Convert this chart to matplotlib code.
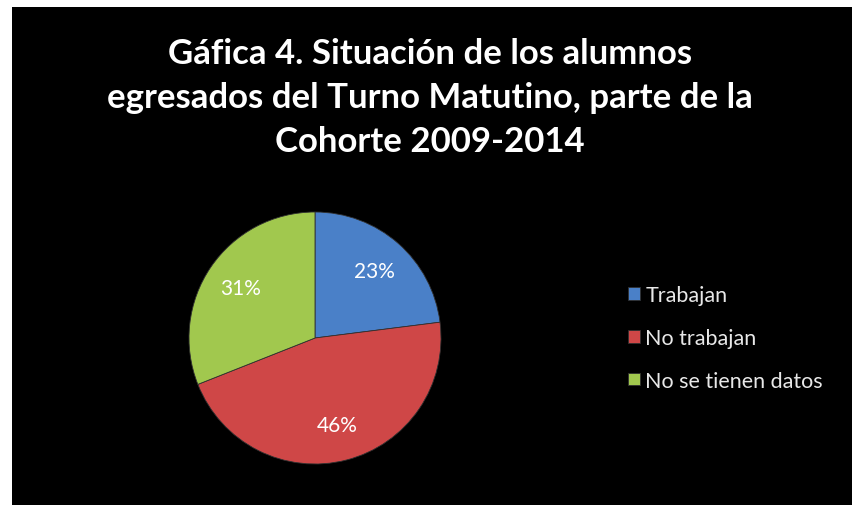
import matplotlib
matplotlib.use("Agg")
import matplotlib.pyplot as plt
from matplotlib.patches import Rectangle

categories = ["Trabajan", "No trabajan", "No se tienen datos"]
values = [23, 46, 31]
colors = ["#4a80c8", "#cf4747", "#a1c84e"]
title = "Gáfica 4. Situación de los alumnos\negresados del Turno Matutino, parte de la\nCohorte 2009-2014"

plt.rcParams['font.family'] = ['Lato', 'DejaVu Sans']

W, H = 853, 506
fig = plt.figure(figsize=(W / 100, H / 100), dpi=100, facecolor="white")
# black chart area inside a white margin (left and top)
fig.patches.append(Rectangle((12 / W, -0.1), 1.0, 1.1 - 8 / H,
                             transform=fig.transFigure, facecolor="black",
                             edgecolor="none", zorder=0))

cx, cy, r = 315, 339, 126
ax = fig.add_axes([(cx - r) / W, (H - cy - r) / H, 2 * r / W, 2 * r / H])
ax.set_zorder(2)
ax.set_facecolor("none")
wedges, texts, autotexts = ax.pie(values, colors=colors, startangle=90,
                                  counterclock=False, autopct="%1.0f%%",
                                  pctdistance=0.71, radius=1,
                                  wedgeprops=dict(edgecolor="#303030", linewidth=0.6),
                                  textprops=dict(color="white", fontsize=15))
ax.set_xlim(-1.0, 1.0)
ax.set_ylim(-1.0, 1.0)
ax.set_aspect("equal")
ax.axis("off")

fig.text(430 / W, 1 - 98 / H, title, ha="center", va="center",
         multialignment="center", color="white", fontsize=25,
         fontweight="bold", linespacing=1.45, zorder=3)

leg = fig.legend(wedges, categories, loc="center left",
                 bbox_to_anchor=(628 / W, 1 - 339 / H), frameon=False,
                 fontsize=15.5, labelcolor="#e8e8e8", handlelength=0.55,
                 handleheight=0.55, handletextpad=0.25, labelspacing=1.05,
                 borderpad=0, borderaxespad=0)
leg.set_zorder(3)

fig.savefig("out.png", dpi=100, facecolor="white")
